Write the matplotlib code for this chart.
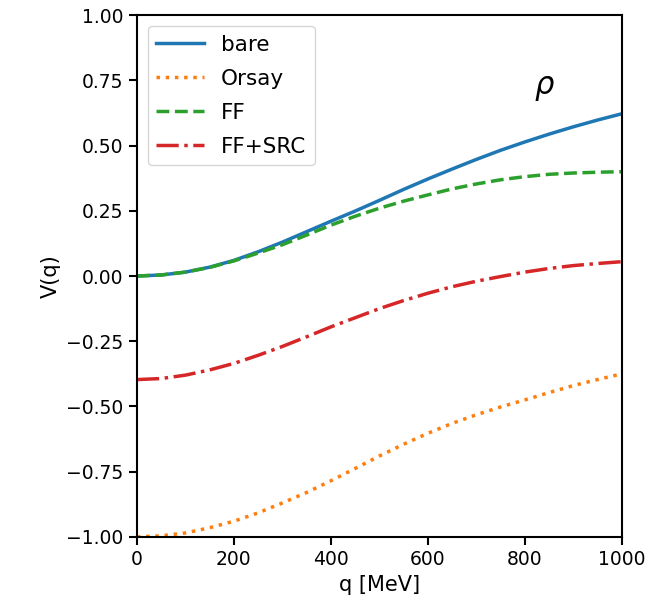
import matplotlib
matplotlib.use("Agg")
import matplotlib.pyplot as plt

# momentum grid [MeV]
q = [0, 50, 100, 150, 200, 250, 300, 350, 400, 450, 500,
     550, 600, 650, 700, 750, 800, 850, 900, 950, 1000]

bare = [0.0, 0.004, 0.015, 0.034, 0.06, 0.093, 0.13, 0.17, 0.21, 0.249, 0.29,
        0.332, 0.372, 0.41, 0.447, 0.482, 0.514, 0.544, 0.572, 0.598, 0.622]
orsay = [-1.0, -0.996, -0.985, -0.965, -0.94, -0.908, -0.87, -0.83, -0.785, -0.738, -0.69,
         -0.645, -0.603, -0.565, -0.532, -0.502, -0.475, -0.447, -0.42, -0.397, -0.375]
ff = [0.0, 0.004, 0.015, 0.033, 0.058, 0.088, 0.12, 0.157, 0.195, 0.229, 0.26,
      0.287, 0.311, 0.334, 0.353, 0.369, 0.381, 0.39, 0.395, 0.398, 0.40]
ff_src = [-0.397, -0.393, -0.38, -0.36, -0.335, -0.304, -0.27, -0.233, -0.195, -0.16, -0.125,
          -0.094, -0.066, -0.041, -0.02, -0.002, 0.015, 0.029, 0.04, 0.048, 0.055]

fig = plt.figure(figsize=(6.49, 6.08), dpi=100)
ax = fig.add_axes([0.211, 0.117, 0.747, 0.858])

ax.plot(q, bare, color="tab:blue", lw=2.5, label="bare")
ax.plot(q, orsay, color="tab:orange", lw=2.5, ls=":", label="Orsay")
ax.plot(q, ff, color="tab:green", lw=2.5, ls="--", label="FF")
ax.plot(q, ff_src, color="tab:red", lw=2.5, ls="-.", label="FF+SRC")

ax.set_xlim(0, 1000)
ax.set_ylim(-1, 1)
ax.set_xticks([0, 200, 400, 600, 800, 1000])
ax.set_yticks([-1.0, -0.75, -0.5, -0.25, 0.0, 0.25, 0.5, 0.75, 1.0])
ax.tick_params(labelsize=13.5, width=1.5, length=6)
for s in ax.spines.values():
    s.set_linewidth(1.5)
ax.set_xlabel("q [MeV]", fontsize=15)
ax.set_ylabel("V(q)", fontsize=15)
ax.text(841, 0.72, r"$\rho$", fontsize=22, ha="center", va="center")

ax.legend(loc="upper left", fontsize=15.5, handlelength=2.2, labelspacing=0.65)

fig.savefig("out.png", dpi=100)
